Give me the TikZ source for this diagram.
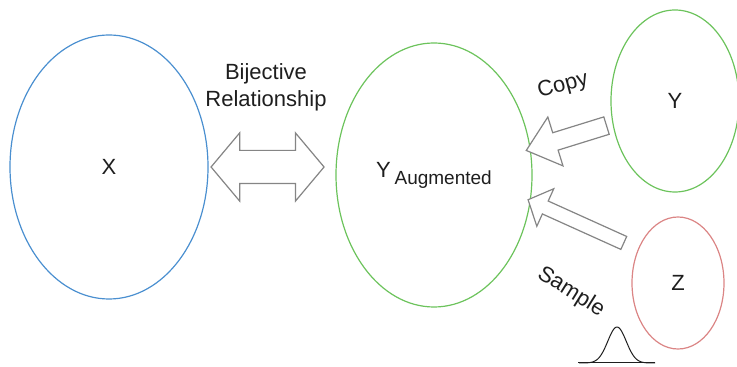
\documentclass[tikz,border=0pt]{standalone}
\usepackage{fontspec}
\setmainfont{Liberation Sans}
\usetikzlibrary{shapes.geometric,shapes.arrows,calc}
\definecolor{setblue}{HTML}{4A8FD0}
\definecolor{setgreen}{HTML}{6CC35C}
\definecolor{setred}{HTML}{DB8585}
\definecolor{arrowgray}{HTML}{858585}
\definecolor{ink}{HTML}{1E1E1E}
\tikzset{set/.style={ellipse,draw,line width=1.2pt,inner sep=0pt,text=ink,font=\fontsize{22}{26}\selectfont},hollow/.style={draw=arrowgray,line width=1.2pt,fill=white,inner xsep=0pt,single arrow head indent=0pt},note/.style={text=ink,inner sep=0pt,font=\fontsize{22}{27}\selectfont}}

\begin{document}
\begin{tikzpicture}[x=1pt,y=1pt]
\useasboundingbox (0,0) rectangle (737,367);
\node[set,draw=setblue,minimum width=198pt,minimum height=264pt] (X) at (109,200) {X};
\node[set,draw=setgreen,minimum width=196pt,minimum height=264pt] (Yaug) at (434,192) {Y\,\raisebox{-7pt}{\fontsize{19}{22}\selectfont Augmented}};
\node[set,draw=setgreen,minimum width=128pt,minimum height=182pt] (Y) at (675,266) {Y};
\node[set,draw=setred,minimum width=92pt,minimum height=132pt] (Z) at (678,84) {Z};
\node[note,align=center] (bij) at (266,280) {Bijective\\Relationship};
\path (X.east) -- node[hollow,double arrow,pos=.465,minimum height=113pt,inner ysep=16pt,double arrow head extend=17.5pt,double arrow tip angle=100] (bijarrow) {} (X.east -| Yaug.west);
\path (Y.200) -- node[hollow,single arrow,sloped,allow upside down,minimum height=84pt,inner ysep=8.5pt,single arrow head extend=16.5pt,single arrow tip angle=80] (copyarrow) {} (Yaug.15);
\path (Z.140) -- node[hollow,single arrow,sloped,allow upside down,pos=.55,minimum height=105pt,inner ysep=6.5pt,single arrow head extend=13.5pt,single arrow tip angle=95] (samplearrow) {} (Yaug.-15);
\node[note,rotate=15] (copy) at (563,281) {Copy};
\node[note,rotate=-32] (sample) at (571,75) {Sample};
% bell curve under Sample
\draw[ink,line width=1pt] (578,4) -- (655,4);
\draw[ink,line width=1pt,domain=-38:38,samples=70,smooth] plot ({617+\x},{4+36*exp(-(\x/13)^2)});
\end{tikzpicture}
\end{document}
